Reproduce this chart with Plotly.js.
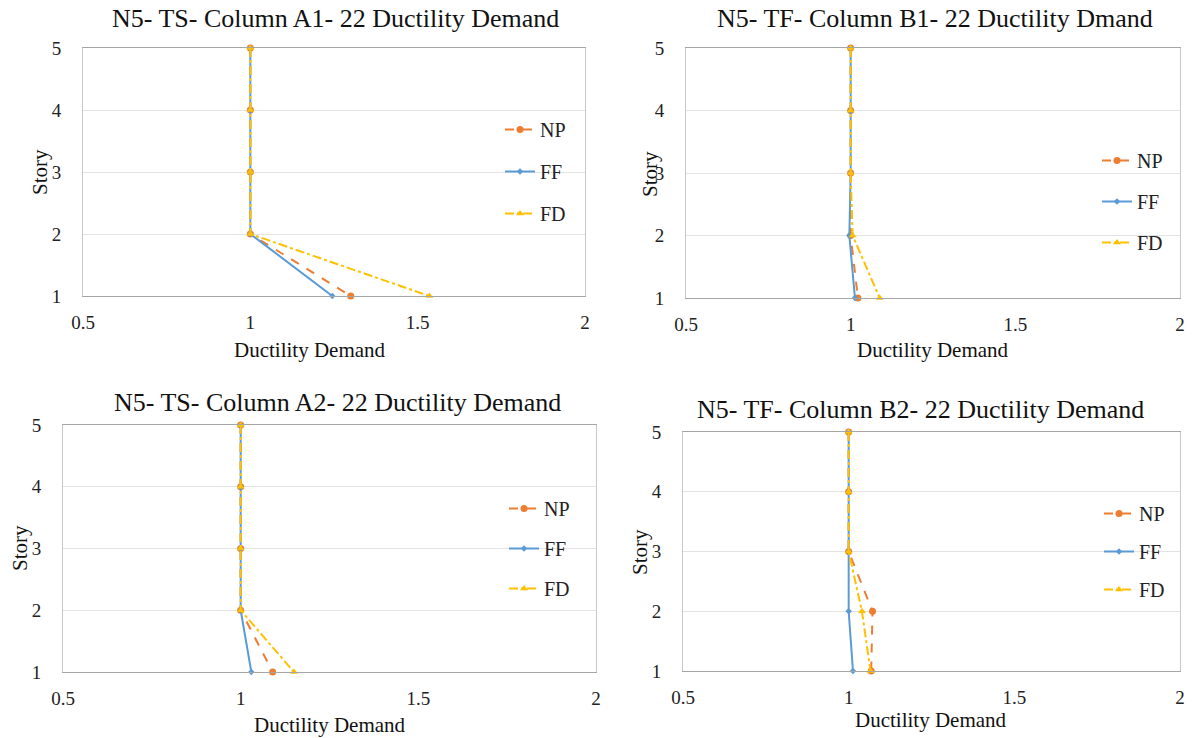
<!DOCTYPE html>
<html>
<head>
<meta charset="utf-8">
<script src="https://cdn.plot.ly/plotly-3.0.1.min.js"></script>
<style>html,body{margin:0;padding:0;background:#fff;}#chart{width:1192px;height:738px;}</style>
</head>
<body>
<div id="chart"></div>
<script>
// Story levels (y)
const stories = [5, 4, 3, 2, 1];

// Panel titles
const titles = [
  "N5- TS- Column A1- 22 Ductility Demand",
  "N5- TF- Column B1- 22 Ductility Dmand",
  "N5- TS- Column A2- 22 Ductility Demand",
  "N5- TF- Column B2- 22 Ductility Demand"
];

// Series names
const seriesNames = ["NP", "FF", "FD"];

// Panel 1: TS Column A1
const A1_NP = [1, 1, 1, 1, 1.30];
const A1_FF = [1, 1, 1, 1, 1.245];
const A1_FD = [1, 1, 1, 1, 1.535];

// Panel 2: TF Column B1
const B1_NP = [1, 1, 1, 1.0, 1.022];
const B1_FF = [1, 1, 1, 0.996, 1.013];
const B1_FD = [1, 1, 1, 1.006, 1.088];

// Panel 3: TS Column A2
const A2_NP = [1, 1, 1, 1, 1.09];
const A2_FF = [1, 1, 1, 1, 1.03];
const A2_FD = [1, 1, 1, 1, 1.15];

// Panel 4: TF Column B2
const B2_NP = [1, 1, 1, 1.072, 1.068];
const B2_FF = [1, 1, 1, 1.0, 1.013];
const B2_FD = [1, 1, 1, 1.04, 1.066];

// X tick labels
const xTickVals = [0.5, 1, 1.5, 2];
const xTickText = ["0.5", "1", "1.5", "2"];
const yTickVals = [1, 2, 3, 4, 5];

const panelData = [
  [A1_NP, A1_FF, A1_FD],
  [B1_NP, B1_FF, B1_FD],
  [A2_NP, A2_FF, A2_FD],
  [B2_NP, B2_FF, B2_FD]
];

const colors = ["#ED7D31", "#5B9BD5", "#FFC000"];
const dashes = ["dash", "solid", "dashdot"];
const symbols = ["circle", "diamond", "triangle-up"];
const msizes = [7, 5, 7];

const W = 1192, H = 738;
// plot boxes in pixels [left, right, top, bottom]
const boxes = [
  [83, 585, 48, 296],
  [686, 1180, 48, 298],
  [63, 596, 425, 672],
  [683, 1180, 432, 671]
];
const legendPos = [[500, 110], [1097, 141], [504, 489], [1099, 494]];
const legendGap = [13, 12, 11, 9];
const titlePos = [[335, 18], [935, 18], [337, 402], [920, 409]];
const xTitlePos = [[310, 350], [933, 350], [330, 725], [931, 720]];
const yTitlePos = [[40, 172], [650, 174], [20, 548], [640, 552]];

const FONT = "Liberation Serif";
const traces = [];
const layout = {
  width: W, height: H,
  margin: {l: 0, r: 0, t: 0, b: 0},
  paper_bgcolor: "#ffffff",
  plot_bgcolor: "#ffffff",
  font: {family: FONT, color: "#000000"},
  showlegend: true,
  annotations: []
};

panelData.forEach((series, p) => {
  const ax = p === 0 ? "" : String(p + 1);
  series.forEach((vals, s) => {
    traces.push({
      type: "scatter", mode: "lines+markers",
      x: vals, y: stories,
      xaxis: "x" + ax, yaxis: "y" + ax,
      name: seriesNames[s],
      legend: p === 0 ? "legend" : "legend" + (p + 1),
      legendgroup: "g" + p + "_" + s,
      line: {color: colors[s], width: 2, dash: dashes[s]},
      marker: {color: colors[s], size: msizes[s], symbol: symbols[s]},
      cliponaxis: false,
      hoverinfo: "x+y"
    });
  });
  const b = boxes[p];
  layout["xaxis" + ax] = {
    domain: [b[0] / W, b[1] / W],
    anchor: "y" + ax,
    range: [0.5, 2],
    tickvals: xTickVals, ticktext: xTickText,
    showgrid: false, zeroline: false,
    showline: true, linecolor: "#a6a6a6", linewidth: 1, mirror: true,
    ticks: "", ticklabelstandoff: 9,
    tickfont: {family: FONT, size: 19, color: "#222"},
    fixedrange: true
  };
  layout["yaxis" + ax] = {
    domain: [1 - b[3] / H, 1 - b[2] / H],
    anchor: "x" + ax,
    range: [1, 5],
    tickvals: yTickVals,
    showgrid: true, gridcolor: "#e3e3e3", gridwidth: 1,
    zeroline: false,
    showline: true, linecolor: "#c8c8c8", linewidth: 1, mirror: true,
    ticks: "", ticklabelstandoff: 17,
    tickfont: {family: FONT, size: 19, color: "#222"},
    fixedrange: true
  };
  const lg = {
    x: legendPos[p][0] / W, y: 1 - legendPos[p][1] / H,
    xanchor: "left", yanchor: "top",
    bgcolor: "rgba(0,0,0,0)", borderwidth: 0,
    font: {family: FONT, size: 20, color: "#222"},
    tracegroupgap: legendGap[p], itemwidth: 30, traceorder: "grouped"
  };
  layout[p === 0 ? "legend" : "legend" + (p + 1)] = lg;
  layout.annotations.push({
    text: titles[p], xref: "paper", yref: "paper",
    x: titlePos[p][0] / W, y: 1 - titlePos[p][1] / H,
    xanchor: "center", yanchor: "middle", showarrow: false,
    font: {family: FONT, size: 26, color: "#111"}
  });
  layout.annotations.push({
    text: "Ductility Demand", xref: "paper", yref: "paper",
    x: xTitlePos[p][0] / W, y: 1 - xTitlePos[p][1] / H,
    xanchor: "center", yanchor: "middle", showarrow: false,
    font: {family: FONT, size: 21, color: "#111"}
  });
  layout.annotations.push({
    text: "Story", xref: "paper", yref: "paper",
    x: yTitlePos[p][0] / W, y: 1 - yTitlePos[p][1] / H,
    xanchor: "center", yanchor: "middle", showarrow: false, textangle: -90,
    font: {family: FONT, size: 21, color: "#111"}
  });
});

Plotly.newPlot("chart", traces, layout, {displayModeBar: false, staticPlot: true});
</script>
</body>
</html>
